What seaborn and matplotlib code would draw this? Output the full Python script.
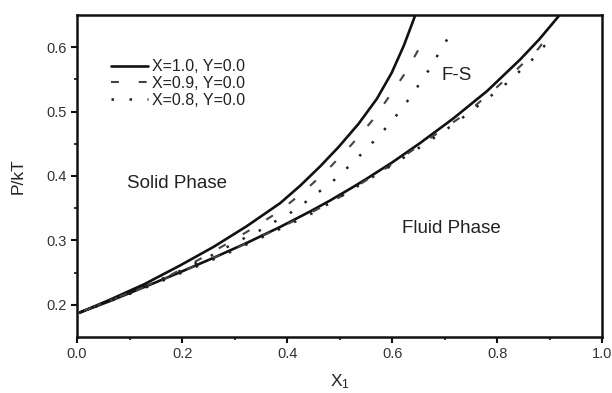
import matplotlib
matplotlib.use("Agg")
import matplotlib.pyplot as plt
import seaborn as sns
import pandas as pd

# ---- data ----
# Each series: fluid branch (high x -> 0) followed by solid branch (0 -> high x)
# X=1.0, Y=0.0
s1_x = [0.920, 0.916, 0.880, 0.844, 0.781, 0.716, 0.653, 0.600, 0.552, 0.526, 0.482, 0.444,
        0.387, 0.323, 0.260, 0.196, 0.128, 0.060, 0.005,
        0.060, 0.128, 0.196, 0.260, 0.323, 0.387, 0.425, 0.463, 0.498, 0.536, 0.571,
        0.599, 0.622, 0.641, 0.646]
s1_y = [0.652, 0.647, 0.612, 0.581, 0.532, 0.489, 0.451, 0.421, 0.396, 0.383, 0.362, 0.345,
        0.321, 0.296, 0.273, 0.2505, 0.2275, 0.205, 0.188,
        0.207, 0.232, 0.261, 0.290, 0.322, 0.358, 0.385, 0.415, 0.445, 0.481, 0.520,
        0.560, 0.602, 0.643, 0.655]

# X=0.9, Y=0.0
s2_x = [0.885, 0.879, 0.837, 0.787, 0.742, 0.691, 0.644, 0.600, 0.550, 0.500, 0.450,
        0.400, 0.350, 0.300, 0.250, 0.200, 0.150, 0.100, 0.050, 0.005,
        0.050, 0.100, 0.171, 0.236, 0.288, 0.337, 0.383, 0.431, 0.481, 0.523, 0.561,
        0.595, 0.625, 0.650, 0.656]
s2_y = [0.605, 0.598, 0.565, 0.529, 0.498, 0.469, 0.443, 0.418, 0.393, 0.367, 0.345,
        0.325, 0.306, 0.287, 0.2695, 0.252, 0.235, 0.218, 0.203, 0.188,
        0.203, 0.219, 0.243, 0.272, 0.296, 0.320, 0.344, 0.375, 0.413, 0.449, 0.485,
        0.524, 0.560, 0.596, 0.605]

# X=0.8, Y=0.0
s3_x = [0.891, 0.866, 0.810, 0.781, 0.724, 0.667, 0.600, 0.550, 0.500, 0.450, 0.400,
        0.350, 0.300, 0.250, 0.200, 0.150, 0.100, 0.050, 0.005,
        0.050, 0.100, 0.150, 0.200, 0.250, 0.300, 0.347, 0.374, 0.403, 0.431, 0.460,
        0.490, 0.519, 0.545, 0.571, 0.595, 0.617, 0.637, 0.657, 0.676, 0.691, 0.707]
s3_y = [0.603, 0.580, 0.538, 0.520, 0.484, 0.452, 0.417, 0.392, 0.367, 0.343, 0.323,
        0.304, 0.285, 0.267, 0.250, 0.233, 0.217, 0.202, 0.188,
        0.202, 0.218, 0.236, 0.254, 0.274, 0.296, 0.315, 0.328, 0.341, 0.357, 0.375,
        0.394, 0.416, 0.437, 0.459, 0.481, 0.503, 0.525, 0.549, 0.572, 0.594, 0.615]

labels = ["X=1.0, Y=0.0", "X=0.9, Y=0.0", "X=0.8, Y=0.0"]
x_ticks = [0.0, 0.2, 0.4, 0.6, 0.8, 1.0]
y_ticks = [0.2, 0.3, 0.4, 0.5, 0.6]

sns.set_style("ticks")
plt.rcParams["font.family"] = ["Liberation Sans", "DejaVu Sans"]
plt.rcParams["mathtext.default"] = "regular"

fig = plt.figure(figsize=(6.12, 3.93), dpi=100)
ax = fig.add_axes([0.126, 0.1425, 0.858, 0.8195])

series = [(s1_x, s1_y, "-", 1.9, "#111111"),
          (s2_x, s2_y, (0, (3.8, 9.5)), 1.5, "#444444"),
          (s3_x, s3_y, (0, (1.0, 6.2)), 1.8, "#222222")]
for (xs, ys, ls, lw, c), lab in zip(series, labels):
    df = pd.DataFrame({"x": xs, "y": ys})
    sns.lineplot(data=df, x="x", y="y", sort=False, estimator=None, ax=ax,
                 color=c, linestyle=ls, linewidth=lw, label=lab)

ax.set_xlim(0.0, 1.0)
ax.set_ylim(0.15, 0.65)
ax.set_xticks(x_ticks)
ax.set_xticklabels([f"{v:.1f}" for v in x_ticks])
ax.set_yticks(y_ticks)
ax.set_yticklabels([f"{v:.1f}" for v in y_ticks])
ax.set_xticks([0.1, 0.3, 0.5, 0.7, 0.9], minor=True)
ax.set_yticks([0.25, 0.35, 0.45, 0.55], minor=True)
ax.tick_params(which="major", direction="out", length=4, width=1.5,
               labelsize=10.5, labelcolor="#333333", colors="#111111")
ax.tick_params(which="minor", direction="out", length=2, width=1.2, colors="#111111")
ax.tick_params(which="both", labelcolor="#333333")
for sp in ax.spines.values():
    sp.set_visible(True)
    sp.set_linewidth(1.8)
    sp.set_color("#111111")

ax.set_xlabel("X$_1$", fontsize=12.5, color="#222222", labelpad=8)
ax.set_ylabel("P/kT", fontsize=12.5, color="#222222", labelpad=15)

ax.text(0.190, 0.389, "Solid Phase", fontsize=13.5, ha="center", va="center", color="#222222")
ax.text(0.712, 0.318, "Fluid Phase", fontsize=13.5, ha="center", va="center", color="#222222")
ax.text(0.723, 0.556, "F-S", fontsize=13.5, ha="center", va="center", color="#222222")

leg = ax.legend(loc="upper left", bbox_to_anchor=(0.052, 0.882), frameon=False,
                fontsize=11.5, handlelength=2.3, handletextpad=0.25, labelspacing=0.1,
                borderaxespad=0)
for t in leg.get_texts():
    t.set_color("#222222")

fig.savefig("out.png", dpi=100)
